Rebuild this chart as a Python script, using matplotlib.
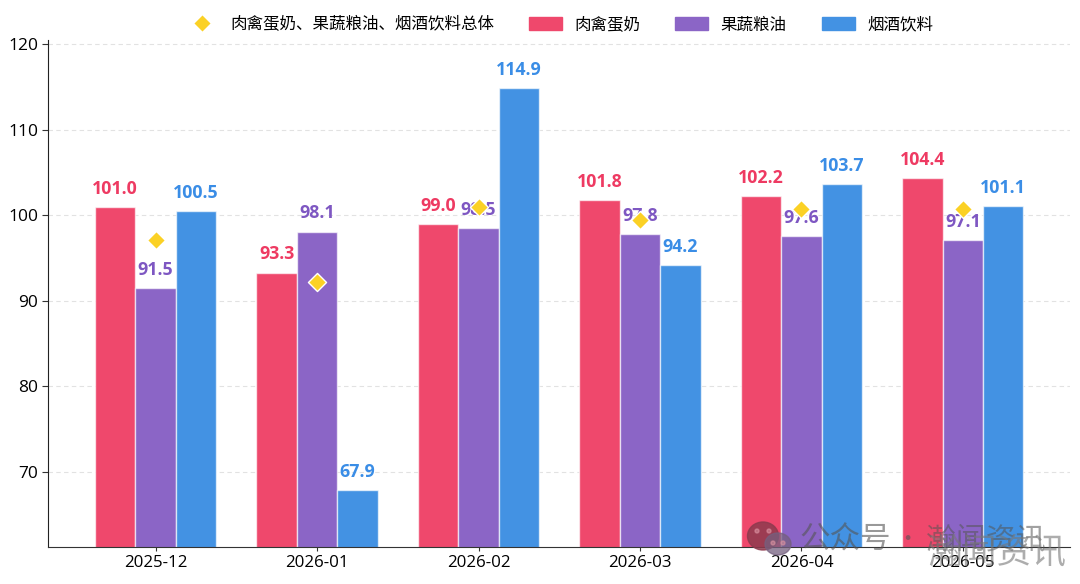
import numpy as np
import matplotlib.pyplot as plt
from matplotlib.lines import Line2D
from matplotlib.patches import Ellipse, Patch

plt.rcParams['font.family'] = ['Noto Sans CJK SC', 'DejaVu Sans']
latin = ['Open Sans', 'DejaVu Sans']

months = ['2025-12', '2026-01', '2026-02', '2026-03', '2026-04', '2026-05']
meat = [101.0, 93.3, 99.0, 101.8, 102.2, 104.4]
veg = [91.5, 98.1, 98.5, 97.8, 97.6, 97.1]
drinks = [100.5, 67.9, 114.9, 94.2, 103.7, 101.1]
overall = [97.1, 92.2, 101.0, 99.5, 100.7, 100.7]

series_names = ['肉禽蛋奶', '果蔬粮油', '烟酒饮料']
overall_name = '肉禽蛋奶、果蔬粮油、烟酒饮料总体'
bar_colors = ['#EF486C', '#8B65C6', '#4392E3']
label_colors = ['#EE3A62', '#7E57C2', '#3A8DE6']

fig = plt.figure(figsize=(10.8, 5.84), dpi=100)
ax = fig.add_axes([48 / 1080, 1 - 547 / 584, 1022 / 1080, 507 / 584])

x = np.arange(len(months))
width = 0.25

for i, vals in enumerate([meat, veg, drinks]):
    pos = x + (i - 1) * width
    ax.bar(pos, vals, width, color=bar_colors[i], edgecolor=(1, 1, 1, 0.65),
           linewidth=1, zorder=2)
    for px, v in zip(pos, vals):
        ax.annotate(f'{v:.1f}', (px, v), xytext=(0, 13), textcoords='offset points',
                    ha='center', va='center', color=label_colors[i],
                    fontsize=12.8, fontweight='bold', family=latin, zorder=3)

ax.scatter(x, overall, marker='D', s=85, color='#FBD125', edgecolor='white',
           linewidth=1, zorder=4)

ax.set_xlim(-0.666, 5.663)
ax.set_ylim(61.2, 120.5)
ax.set_xticks(x, months, family=latin)
ax.set_yticks([70, 80, 90, 100, 110, 120])
for lab in ax.get_yticklabels():
    lab.set_family(latin)
ax.tick_params(axis='x', labelsize=12.2, length=3, color='#333333', pad=3)
ax.tick_params(axis='y', labelsize=12.5, length=4, color='#333333', pad=3)
ax.grid(axis='y', color='#E2E2E2', linestyle=(0, (4, 3)), linewidth=0.8)
ax.set_axisbelow(True)
ax.spines['top'].set_visible(False)
ax.spines['right'].set_visible(False)
ax.spines['left'].set_color('#222222')
ax.spines['bottom'].set_color('#333333')

handles = [Line2D([], [], linestyle='none', marker='D', markersize=9.5,
                  color='#FBD125', markeredgecolor='white')]
handles += [Patch(color=c) for c in bar_colors]
fig.legend(handles, [overall_name] + series_names, ncol=4, frameon=False,
           fontsize=11.9, handlelength=2, handleheight=0.8, handletextpad=0.75,
           columnspacing=2.1, loc='center', bbox_to_anchor=(559 / 1080, 1 - 25 / 584),
           borderpad=0, borderaxespad=0)

# account mark across the lower right corner
over = fig.add_axes([0, 0, 1, 1], zorder=10)
over.set_xlim(0, 1080)
over.set_ylim(584, 0)
over.axis('off')
over.add_patch(Ellipse((763, 536), 31, 28, color='#8E3A4E', alpha=0.85))
over.add_patch(Ellipse((778, 544), 26, 22, color='#75607F', alpha=0.75))
for ex, ey in [(757, 531), (769, 531), (773, 543), (783, 543)]:
    over.add_patch(Ellipse((ex, ey), 4, 4, color='#D9909F', alpha=0.6))
over.text(799, 540, '公众号', fontsize=22, color='#555555', alpha=0.6, va='center')
over.text(907, 540, '·', fontsize=16, color='#555555', alpha=0.6, va='center', ha='center')
over.text(926, 540, '瀚闻资讯', fontsize=21.5, color='#555555', alpha=0.55, va='center')
over.text(928, 553, '瀚闻资讯', fontsize=25, color='#777777', alpha=0.6, va='center')

fig.savefig('out.png', dpi=100)
